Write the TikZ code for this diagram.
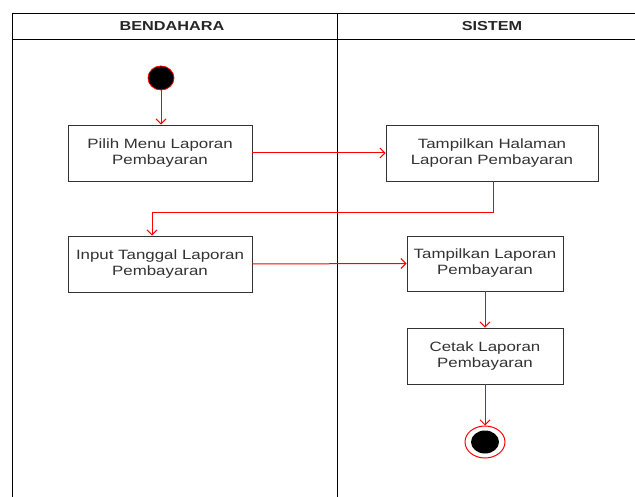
\documentclass[tikz,border=0pt]{standalone}
\usepackage{fontspec}
\setmainfont{Liberation Sans}
\newfontfamily\widefont[FakeStretch=1.25]{Liberation Sans}
\usetikzlibrary{arrows.meta,shapes.geometric}
\begin{document}
\begin{tikzpicture}[x=1pt,y=-1pt,
  lane/.style={draw=black,line width=0.9pt},
  act/.style={draw=black!80,line width=0.8pt,fill=white,align=center,inner sep=0pt,
     font=\widefont\fontsize{13.5}{16}\selectfont,text=black!80},
  hdr/.style={font=\widefont\bfseries\fontsize{13}{15}\selectfont,text=black!85},
  flow/.style={color=red,line width=1pt,-{Straight Barb[length=5pt,width=10pt]}}]
\useasboundingbox (0,0) rectangle (635,497);
\fill[white] (0,0) rectangle (635,497);
% swimlanes
\draw[lane] (12,497) -- (12,13) -- (636,13);
\draw[lane] (12,39) -- (636,39);
\draw[lane] (337,13) -- (337,497);
\node[hdr] (h1) at (172,26) {BENDAHARA};
\node[hdr] (h2) at (492,26) {SISTEM};
% nodes
\node[ellipse,draw=red,fill=black,minimum width=26pt,minimum height=24pt,inner sep=0pt,line width=0.8pt] (start) at (161,78) {};
\node[act,minimum width=184pt,minimum height=56pt] (a1) at (160,153) {Pilih Menu Laporan\\Pembayaran};
\node[act,minimum width=212pt,minimum height=56pt] (a2) at (492,153) {Tampilkan Halaman\\Laporan Pembayaran};
\node[act,minimum width=184pt,minimum height=56pt] (a3) at (160,264) {Input Tanggal Laporan\\Pembayaran};
\node[act,minimum width=156pt,minimum height=55pt] (a4) at (485,263.5) {Tampilkan Laporan\\Pembayaran};
\node[act,minimum width=156pt,minimum height=56pt] (a5) at (485,356) {Cetak Laporan\\Pembayaran};
\node[ellipse,draw=red,line width=1pt,minimum width=40pt,minimum height=32pt,inner sep=0pt] (endo) at (485,442) {};
\node[ellipse,fill=black,minimum width=28pt,minimum height=23pt,inner sep=0pt] (endi) at (485,442) {};
\coordinate (k1) at (493,213);
\coordinate (k2) at (152,213);
% connectors
\draw[flow] (start) -- (start |- a1.north);
\draw[flow] (a1.east) -- (a2.west);
\draw[flow] (a2.south -| k1) -- (k1) -- (k2) -- (k2 |- a3.north);
\draw[flow] (a3.east) -- (a4.west);
\draw[flow] (a4) -- (a5);
\draw[flow] (a5) -- (endo);
\end{tikzpicture}
\end{document}
